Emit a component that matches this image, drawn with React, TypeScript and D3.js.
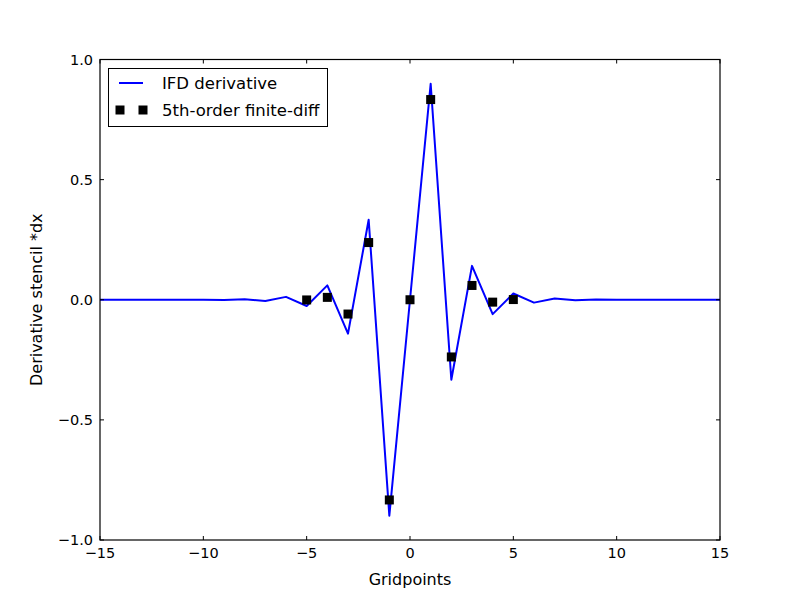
import React from "react";
import * as d3 from "d3";

const gridX = [-15,-14,-13,-12,-11,-10,-9,-8,-7,-6,-5,-4,-3,-2,-1,0,1,2,3,4,5,6,7,8,9,10,11,12,13,14,15];
const ifdValues = [0,0,0,0,-0.0002,0.0005,-0.001,0.002,-0.005,0.012,-0.026,0.060,-0.141,0.333,-0.899,0,0.899,-0.333,0.141,-0.060,0.026,-0.012,0.005,-0.002,0.001,-0.0005,0.0002,0,0,0,0];
const fdX = [-5,-4,-3,-2,-1,0,1,2,3,4,5];
const fdValues = [-0.000794,0.00992,-0.0595,0.2381,-0.8333,0,0.8333,-0.2381,0.0595,-0.00992,0.000794];
const xTicks = [-15,-10,-5,0,5,10,15];
const yTicks = [-1.0,-0.5,0.0,0.5,1.0];
const legendLabels = ["IFD derivative","5th-order finite-diff"];
const xLabel = "Gridpoints";
const yLabel = "Derivative stencil *dx";

const W = 800, H = 600;
const L = 100, R = 720, T = 59.5, B = 540;
const font = "DejaVu Sans, sans-serif";

function fmt(v: number, dec: number) {
  const s = Math.abs(v).toFixed(dec);
  return v < 0 ? "\u2212" + s : s;
}

export default function App() {
  const x = d3.scaleLinear().domain([-15, 15]).range([L, R]);
  const y = d3.scaleLinear().domain([-1, 1]).range([B, T]);
  const line = d3.line<number>().x((_, i) => x(gridX[i])).y((d) => y(d));
  const tl = 4;
  return (
    <svg width={W} height={H} style={{ position: "absolute", left: 0, top: 0, background: "#fff" }}>
      <rect x={0} y={0} width={W} height={H} fill="#fff" />
      <path d={line(ifdValues) || ""} fill="none" stroke="#0000ff" strokeWidth={2} strokeLinejoin="round" />
      {fdX.map((xv, i) => (
        <rect key={i} x={x(xv) - 4.5} y={y(fdValues[i]) - 4.5} width={9} height={9} fill="#000" />
      ))}
      {xTicks.map((t) => (
        <g key={"x" + t}>
          <line x1={x(t)} x2={x(t)} y1={B} y2={B - tl} stroke="#000" />
          <line x1={x(t)} x2={x(t)} y1={T} y2={T + tl} stroke="#000" />
          <text x={x(t)} y={558} textAnchor="middle" fontFamily={font} fontSize={14.5}>{fmt(t, 0)}</text>
        </g>
      ))}
      {yTicks.map((t) => (
        <g key={"y" + t}>
          <line x1={L} x2={L + tl} y1={y(t)} y2={y(t)} stroke="#000" />
          <line x1={R} x2={R - tl} y1={y(t)} y2={y(t)} stroke="#000" />
          <text x={93} y={y(t) + 5} textAnchor="end" fontFamily={font} fontSize={14.5}>{fmt(t, 1)}</text>
        </g>
      ))}
      <rect x={L} y={T} width={R - L} height={B - T} fill="none" stroke="#000" strokeWidth={1.2} />
      <text x={(L + R) / 2} y={585} textAnchor="middle" fontFamily={font} fontSize={16}>{xLabel}</text>
      <text transform={`translate(42,${(T + B) / 2}) rotate(-90)`} textAnchor="middle" fontFamily={font} fontSize={16}>{yLabel}</text>
      <g>
        <rect x={108.5} y={68.5} width={219} height={58} fill="#fff" stroke="#000" strokeWidth={1} />
        <line x1={119} x2={143} y1={83} y2={83} stroke="#0000ff" strokeWidth={2} />
        <text x={162} y={89} fontFamily={font} fontSize={16.5}>{legendLabels[0]}</text>
        <rect x={115.5} y={105.5} width={9} height={9} fill="#000" />
        <rect x={138.5} y={105.5} width={9} height={9} fill="#000" />
        <text x={162} y={116} fontFamily={font} fontSize={16.5}>{legendLabels[1]}</text>
      </g>
    </svg>
  );
}
